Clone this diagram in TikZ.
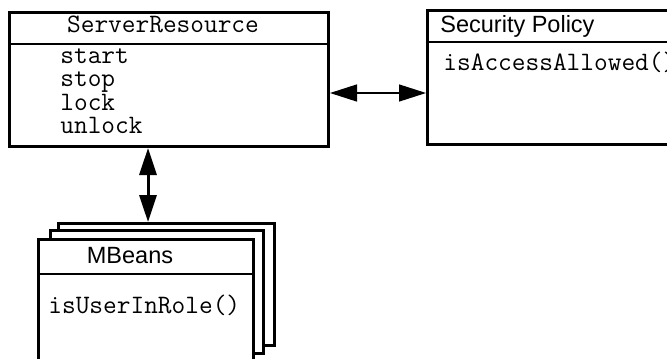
\documentclass[tikz,border=0pt]{standalone}
\usepackage{fontspec}
\setmainfont{Liberation Sans}
\usetikzlibrary{arrows.meta}

\tikzset{
    umlbox/.style={draw, line width=1.5pt, fill=white, inner sep=0pt, anchor=north west},
    divider/.style={line width=1.2pt},
    titletext/.style={font=\fontsize{11.75pt}{14pt}\selectfont, inner sep=0pt},
    optext/.style={font=\ttfamily\fontsize{13.3pt}{15pt}\selectfont, inner sep=0pt},
    link/.style={{Triangle[length=13.5pt,width=8.5pt]}-{Triangle[length=13.5pt,width=8.5pt]}}
}

\begin{document}
\begin{tikzpicture}[x=0.5pt, y=-0.5pt]
    \useasboundingbox (0,0) rectangle (667,358);
    % Server resource
    \node[umlbox, minimum width=159.5pt, minimum height=67pt] (server) at (8,11) {};
    \draw[divider] (server.west |- 0,44) -- (server.east |- 0,44);
    \node[optext, anchor=base] (serverTitle) at (163,33) {ServerResource};
    \node[optext, anchor=base west] (opStart) at (60,63) {start};
    \node[optext, anchor=base west] (opStop) at (60,86) {stop};
    \node[optext, anchor=base west] (opLock) at (60,110) {lock};
    \node[optext, anchor=base west] (opUnlock) at (60,133) {unlock};
    % Security policy
    \node[umlbox, minimum width=140pt, minimum height=67pt] (policy) at (426,9) {};
    \draw[divider] (policy.west |- 0,42) -- (policy.east |- 0,42);
    \node[titletext, anchor=base west] (policyTitle) at (440,33) {Security Policy};
    \node[optext, anchor=base west] (opAccess) at (443,70) {isAccessAllowed()};
    % MBeans stack
    \node[umlbox, minimum width=108pt, minimum height=61pt] (mbeanBack) at (57,222) {};
    \node[umlbox, minimum width=106.5pt, minimum height=61.5pt] (mbeanMid) at (49,229) {};
    \node[umlbox, minimum width=107.5pt, minimum height=75pt] (mbeanFront) at (37,238) {};
    \draw[divider] (mbeanFront.west |- 0,274) -- (mbeanFront.east |- 0,274);
    \node[titletext, anchor=base] (mbeanTitle) at (130,263) {MBeans};
    \node[optext, anchor=base west] (opRole) at (48,313) {isUserInRole()};
    % Links
    \coordinate (linkLevel) at (0,93);
    \coordinate (stackAxis) at (148,0);
    \draw[link, line width=0.7pt] (server.east |- linkLevel) -- (policy.west |- linkLevel);
    \draw[link, line width=1.5pt] (server.south -| stackAxis) -- (mbeanBack.north -| stackAxis);
\end{tikzpicture}
\end{document}
